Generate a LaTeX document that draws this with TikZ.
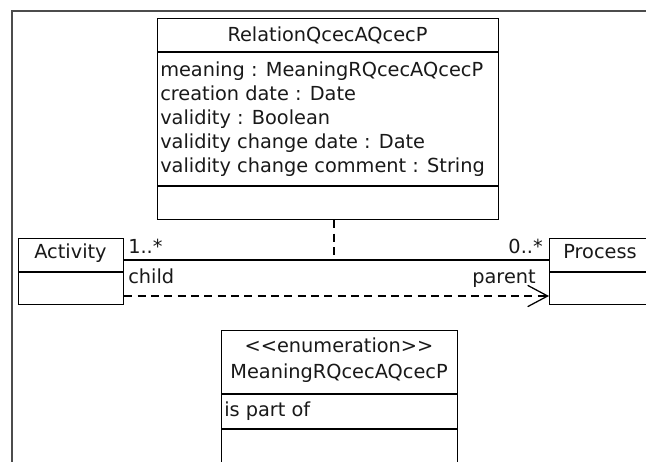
\documentclass[tikz,border=0pt]{standalone}
\usepackage{fontspec}
\setmainfont{DejaVu Sans}
\usetikzlibrary{arrows.meta}
\begin{document}
\begin{tikzpicture}[x=0.75pt,y=-0.75pt,
  box/.style={draw=black,line width=1pt,rectangle,anchor=north west,inner sep=0pt,fill=white},
  sep/.style={draw=black,line width=1pt},
  txt/.style={inner sep=0pt,font=\fontsize{14.5}{18}\selectfont,text=black!90},
  assoc/.style={draw=black,line width=0.95pt},
  dep/.style={draw=black,line width=0.95pt,dash pattern=on 6pt off 4pt},
  frameline/.style={draw=black!70,line width=0.9pt}]
\useasboundingbox (0,0) rectangle (646,461);
\fill[white] (0,0) rectangle (646,461);
\clip (0,0) rectangle (646,461);
% frame
\coordinate (fbl) at (12,470);
\coordinate (ftl) at (12,11);
\coordinate (ftr) at (660,11);
\draw[frameline] (fbl) -- (ftl) -- (ftr);
% Relation class
\node[box,minimum width=255.75pt,minimum height=150.75pt] (rel) at (157,18) {};
\draw[sep] (rel.west |- 0,52) -- (rel.east |- 0,52);
\draw[sep] (rel.west |- 0,186) -- (rel.east |- 0,186);
\node[txt,anchor=base] (relname) at (327.5,41) {RelationQcecAQcecP};
\node[txt,anchor=base west] (a1) at (160,76) {meaning : MeaningRQcecAQcecP};
\node[txt,anchor=base west] (a2) at (160,100) {creation date : Date};
\node[txt,anchor=base west] (a3) at (160,124) {validity : Boolean};
\node[txt,anchor=base west] (a4) at (160,148) {validity change date : Date};
\node[txt,anchor=base west] (a5) at (160,172) {validity change comment : String};
% Activity
\node[box,minimum width=78.75pt,minimum height=49.5pt] (act) at (18,238) {};
\draw[sep] (act.west |- 0,272) -- (act.east |- 0,272);
\node[txt,anchor=base] (actname) at (70.5,258) {Activity};
% Process
\node[box,minimum width=90pt,minimum height=49.5pt] (proc) at (549,238) {};
\draw[sep] (proc.west |- 0,272) -- (proc.east |- 0,272);
\node[txt,anchor=base] (procname) at (600,258) {Process};
% association
\coordinate (ay) at (0,260);
\coordinate (mid) at (334,260);
\draw[assoc] (act.east |- ay) -- (proc.west |- ay);
\draw[dep] (rel.south -| mid) -- (mid);
\node[txt,anchor=base west] (m1) at (128,253) {1..*};
\node[txt,anchor=base west] (r1) at (128,283) {child};
\node[txt,anchor=base east] (m2) at (543,253) {0..*};
\node[txt,anchor=base east] (r2) at (536,283) {parent};
% dependency
\coordinate (dy) at (0,296);
\draw[dep,-{Straight Barb[length=15pt,width=16pt,line width=0.95pt]}] (act.east |- dy) -- (proc.west |- dy);
% enumeration
\node[box,minimum width=177pt,minimum height=105pt] (enum) at (221,330) {};
\draw[sep] (enum.west |- 0,394) -- (enum.east |- 0,394);
\draw[sep] (enum.west |- 0,429) -- (enum.east |- 0,429);
\node[txt,anchor=base] (st) at (339,352) {{<}{<}enumeration{>}{>}};
\node[txt,anchor=base] (enname) at (339,378) {MeaningRQcecAQcecP};
\node[txt,anchor=base west] (lit) at (224,416) {is part of};
\end{tikzpicture}
\end{document}
